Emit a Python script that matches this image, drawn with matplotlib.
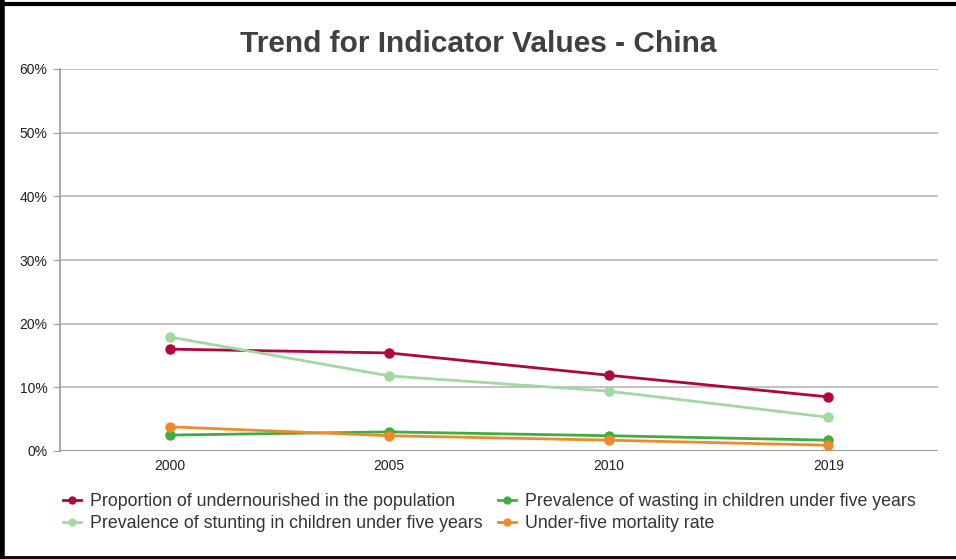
import matplotlib.pyplot as plt
from matplotlib.lines import Line2D

years = ['2000', '2005', '2010', '2019']
undernourished = [16.0, 15.4, 11.9, 8.5]
wasting = [2.5, 3.0, 2.4, 1.7]
stunting = [17.9, 11.8, 9.4, 5.3]
mortality = [3.8, 2.4, 1.7, 0.9]

series_names = ['Proportion of undernourished in the population',
                'Prevalence of wasting in children under five years',
                'Prevalence of stunting in children under five years',
                'Under-five mortality rate']
series_values = [undernourished, wasting, stunting, mortality]
series_colors = ['#b0063a', '#3fae3f', '#a3d8a0', '#ef8a2c']

y_ticks = [0, 10, 20, 30, 40, 50, 60]

plt.rcParams['font.family'] = ['Liberation Sans', 'DejaVu Sans']

fig = plt.figure(figsize=(9.56, 5.59), dpi=100)
ax = fig.add_axes([60 / 956, 1 - 451 / 559, 878 / 956, 382 / 559])

x = range(len(years))
# draw in the order that gives the same overlap as the reference
for i in [2, 3, 1, 0]:
    ax.plot(x, series_values[i], color=series_colors[i], lw=2, marker='o',
            ms=6.5, zorder=3 + i)

ax.set_xlim(-0.5, len(years) - 0.5)
ax.set_ylim(0, 60)
ax.set_xticks(list(x))
ax.set_xticklabels(years, fontsize=10, color='#222222')
ax.set_yticks(y_ticks)
ax.set_yticklabels([f'{t}%' for t in y_ticks], fontsize=10, color='#222222')
ax.tick_params(axis='x', length=0, pad=6)
ax.tick_params(axis='y', length=5, color='#999999', pad=4)

for t in y_ticks[1:]:
    ax.axhline(t, color='#b8b8b8', lw=1.2, zorder=1)
ax.axhline(0, color='#999999', lw=1.5, zorder=2)

for side in ['top', 'right', 'bottom']:
    ax.spines[side].set_visible(False)
ax.spines['left'].set_color('#999999')
ax.spines['left'].set_linewidth(1.2)

fig.text(0.5, 1 - 44 / 559, 'Trend for Indicator Values - China', ha='center',
         va='center', fontsize=21.5, fontweight='bold', color='#404040')

# legend fills column-wise, so reorder to get the reference row layout
order = [0, 2, 1, 3]
handles = [Line2D([], [], color=series_colors[i], lw=2, marker='o', ms=5) for i in order]
labels = [series_names[i] for i in order]
leg = fig.legend(handles, labels, ncol=2, loc='upper left',
                 bbox_to_anchor=(47 / 956, 1 - 477 / 559), frameon=False,
                 fontsize=12.8, handlelength=1.0, handletextpad=0.5,
                 columnspacing=0.9, labelspacing=0.28)
for txt in leg.get_texts():
    txt.set_color('#333333')

# screenshot border
fig.add_artist(plt.Line2D([2 / 956, 2 / 956], [0, 1], color='black', lw=4,
                          transform=fig.transFigure))
fig.add_artist(plt.Line2D([0, 1], [1 - 4 / 559, 1 - 4 / 559], color='black', lw=3,
                          transform=fig.transFigure))
fig.add_artist(plt.Line2D([0, 1], [2 / 559, 2 / 559], color='black', lw=2,
                          transform=fig.transFigure))

fig.savefig('out.png', dpi=100)
